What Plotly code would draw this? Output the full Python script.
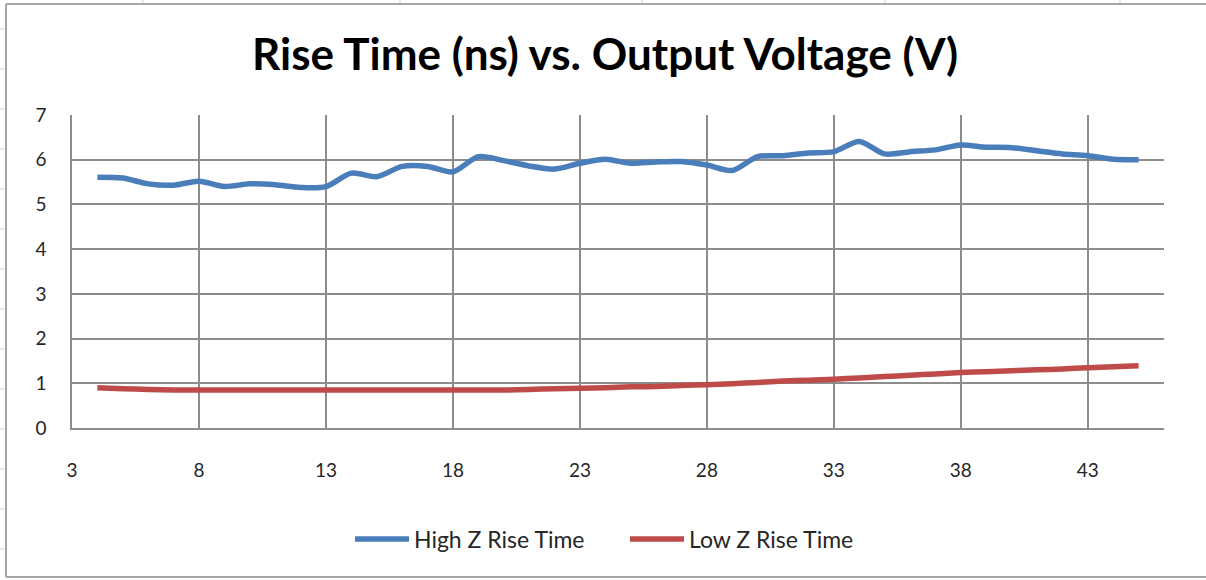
import plotly.graph_objects as go

voltage = list(range(4, 46))
high_z = [5.61, 5.59, 5.46, 5.43, 5.52, 5.40, 5.46, 5.44, 5.38, 5.40,
          5.70, 5.62, 5.85, 5.85, 5.73, 6.07, 5.98, 5.86, 5.79, 5.92,
          6.01, 5.92, 5.95, 5.96, 5.88, 5.76, 6.07, 6.09, 6.15, 6.18,
          6.41, 6.13, 6.18, 6.22, 6.33, 6.28, 6.27, 6.20, 6.13, 6.09,
          6.01, 6.00]
low_z = [0.90, 0.88, 0.86, 0.85, 0.85, 0.85, 0.85, 0.85, 0.85, 0.85,
         0.85, 0.85, 0.85, 0.85, 0.85, 0.85, 0.85, 0.86, 0.88, 0.89,
         0.90, 0.92, 0.93, 0.95, 0.97, 0.99, 1.02, 1.05, 1.07, 1.09,
         1.12, 1.15, 1.18, 1.21, 1.24, 1.26, 1.28, 1.30, 1.32, 1.35,
         1.37, 1.39]

W, H = 1206, 580
L, R, T, B = 72, 1164, 115, 428


def px(x):
    return (x - L) / (R - L)


def py(y):
    return (B - y) / (B - T)


fig = go.Figure()
fig.add_trace(go.Scatter(x=voltage, y=high_z, mode="lines", name="High Z Rise Time",
                         line=dict(color="#4A7EBB", width=5.5, shape="spline", smoothing=0.8)))
fig.add_trace(go.Scatter(x=voltage, y=low_z, mode="lines", name="Low Z Rise Time",
                         line=dict(color="#BE4B48", width=5.5, shape="spline", smoothing=0.8)))

grid = "#8c8c8c"
shapes = []
border = "#a6a6a6"
shapes.append(dict(type="line", xref="paper", yref="paper", x0=px(6), x1=px(6), y0=py(4), y1=py(577),
                   line=dict(color=border, width=2)))
shapes.append(dict(type="line", xref="paper", yref="paper", x0=px(6), x1=px(1210), y0=py(4), y1=py(4),
                   line=dict(color=border, width=2)))
shapes.append(dict(type="line", xref="paper", yref="paper", x0=px(6), x1=px(1210), y0=py(577), y1=py(577),
                   line=dict(color=border, width=2)))
for xv in [143, 400, 642, 885, 1120]:
    shapes.append(dict(type="line", xref="paper", yref="paper", x0=px(xv), x1=px(xv), y0=py(0), y1=py(3),
                       line=dict(color="#c9d3e6", width=1)))
for yv in range(29, 570, 40):
    shapes.append(dict(type="line", xref="paper", yref="paper", x0=px(0), x1=px(4), y0=py(yv), y1=py(yv),
                       line=dict(color="#c9d3e6", width=1)))

fig.update_layout(
    width=W, height=H, autosize=False,
    margin=dict(l=L, r=W - R, t=T, b=H - B, pad=0),
    paper_bgcolor="white", plot_bgcolor="white",
    title=dict(text="<b>Rise Time (ns) vs. Output Voltage (V)</b>", x=605 / W, xanchor="center",
               y=1 - 55 / H, yanchor="middle", yref="container",
               font=dict(family="Lato", size=44, color="#000000")),
    xaxis=dict(range=[3, 46], tick0=3, dtick=5, showgrid=True, gridcolor=grid, gridwidth=1.5,
               showline=True, linecolor=grid, linewidth=1.5, zeroline=False,
               ticks="outside", ticklen=24, tickcolor="rgba(0,0,0,0)",
               tickfont=dict(family="Lato", size=19, color="#262626")),
    yaxis=dict(range=[0, 7], dtick=1, showgrid=True, gridcolor=grid, gridwidth=1.5,
               showline=True, linecolor=grid, linewidth=1.5, zeroline=False,
               ticks="outside", ticklen=20, tickcolor="rgba(0,0,0,0)",
               tickfont=dict(family="Lato", size=19, color="#262626")),
    legend=dict(orientation="h", x=px(350), xanchor="left", y=py(539), yanchor="middle",
                font=dict(family="Lato", size=23, color="#262626"), itemwidth=54,
                entrywidth=206, entrywidthmode="pixels",
                bgcolor="rgba(0,0,0,0)"),
    shapes=shapes,
    showlegend=True,
)

fig.write_html("out.html", config={"displayModeBar": False},
               post_script="document.body.style.margin='0';document.body.style.overflow='hidden';")
